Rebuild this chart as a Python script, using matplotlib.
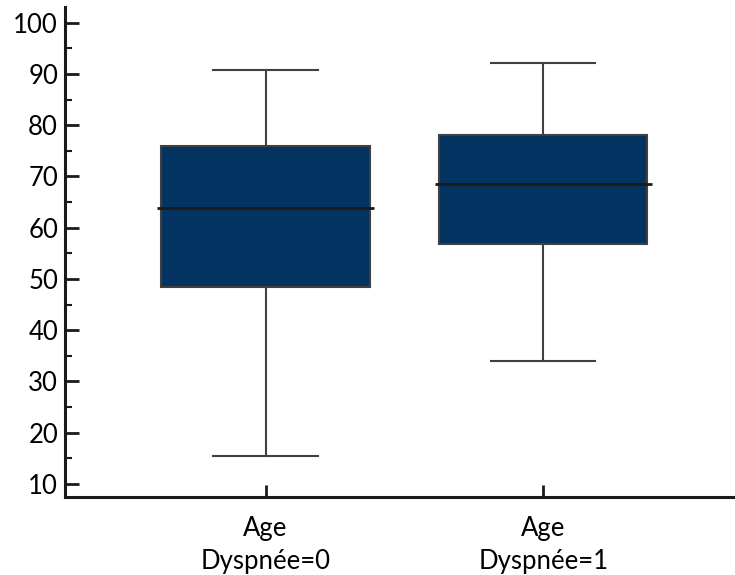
import matplotlib.pyplot as plt
from matplotlib.ticker import MultipleLocator

# box statistics
labels = ["Age\nDyspnée=0", "Age\nDyspnée=1"]
whislo = [15.5, 34.0]
q1 = [48.4, 56.8]
med = [63.8, 68.6]
q3 = [75.9, 78.0]
whishi = [90.7, 92.2]
positions = [1, 2]

plt.rcParams['font.family'] = ['Lato', 'DejaVu Sans']

fig = plt.figure(figsize=(7.35, 5.75), dpi=100)
ax = fig.add_axes([0.0884, 0.1357, 0.9116, 0.8521])

stats = []
for i in range(len(labels)):
    stats.append(dict(label=labels[i], whislo=whislo[i], q1=q1[i], med=med[i],
                      q3=q3[i], whishi=whishi[i], fliers=[]))

parts = ax.bxp(stats, positions=positions, widths=0.75, patch_artist=True, showfliers=False,
               boxprops=dict(facecolor='#023361', edgecolor='#404040', linewidth=1.5),
               medianprops=dict(color='#1a1a1a', linewidth=2),
               whiskerprops=dict(color='#404040', linewidth=1.5),
               capprops=dict(color='#404040', linewidth=1.5),
               capwidths=0.375)
# median line pokes a little outside the box
for p, line in zip(positions, parts['medians']):
    line.set_xdata([p - 0.39, p + 0.39])

ax.set_xlim(0.278, 2.69)
ax.set_ylim(7.46, 103.06)
ax.yaxis.set_major_locator(MultipleLocator(10))
ax.yaxis.set_minor_locator(MultipleLocator(5))

for s in ['top', 'right']:
    ax.spines[s].set_visible(False)
for s in ['left', 'bottom']:
    ax.spines[s].set_linewidth(2.2)
    ax.spines[s].set_color('#1a1a1a')

ax.tick_params(axis='y', which='major', direction='in', length=10, width=2,
               labelsize=18.5, pad=5, color='#1a1a1a')
ax.tick_params(axis='y', which='minor', direction='in', length=5, width=1.5,
               color='#1a1a1a')
ax.tick_params(axis='x', which='major', direction='in', length=9, width=2,
               labelsize=18.5, pad=14, color='#1a1a1a')
for t in ax.get_xticklabels():
    t.set_linespacing(1.4)

fig.savefig('out.png', dpi=100)
